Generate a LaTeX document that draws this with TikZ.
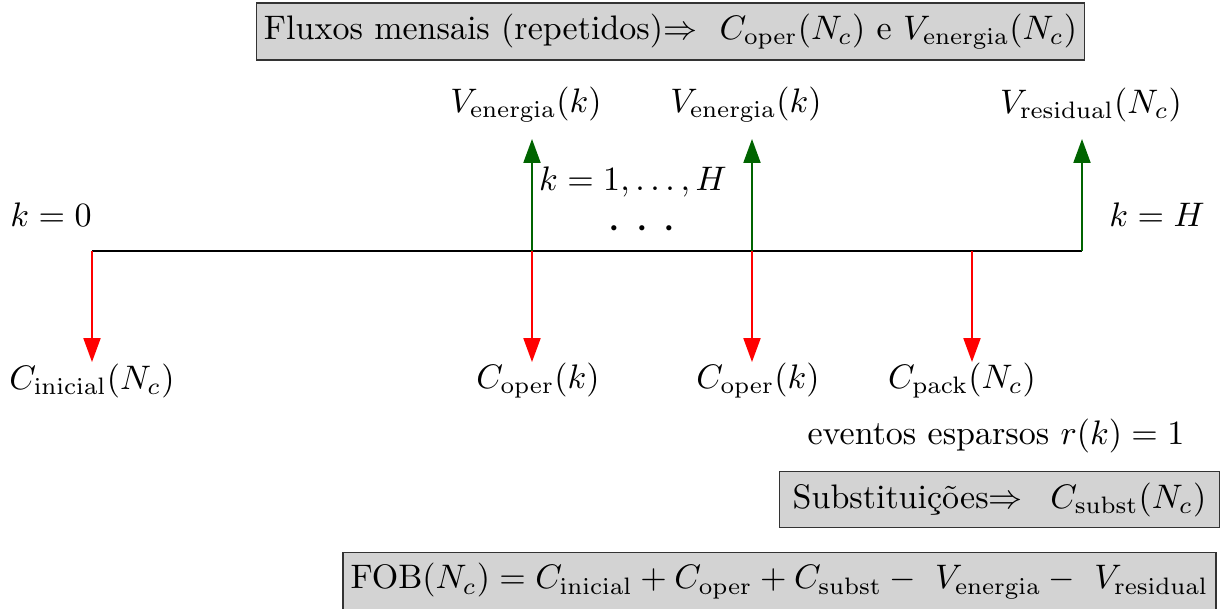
\documentclass[tikz,border=0pt]{standalone}
\usetikzlibrary{arrows.meta}
\definecolor{boxgray}{RGB}{211,211,211}
\definecolor{vgreen}{RGB}{0,100,0}
\tikzset{
  every node/.style={inner sep=0pt},
  infobox/.style={draw=black!80, fill=boxgray, inner xsep=2.2pt, inner ysep=3.2pt, line width=0.5pt},
  costarrow/.style={red, line width=0.5pt, -{Triangle[length=7pt,width=5pt]}},
  gainarrow/.style={vgreen, line width=0.5pt, -{Triangle[length=7pt,width=5pt]}},
  timeline/.style={black, line width=0.5pt}
}
\begin{document}
\begin{tikzpicture}[x=0.294pt,y=-0.294pt]
\useasboundingbox (0,0) rectangle (1220,608);
% top box
\node[infobox] (top) at (670.5,31.5) {Fluxos mensais (repetidos)$\Rightarrow$\ \ $C_{\mathrm{oper}}(N_c)$ e $V_{\mathrm{energia}}(N_c)$};
% timeline points
\coordinate (t0) at (92,251);
\coordinate (t1) at (532,251);
\coordinate (t2) at (752,251);
\coordinate (tp) at (972,251);
\coordinate (tH) at (1082,251);
\coordinate (d0) at (92,362);
\coordinate (d1) at (532,362);
\coordinate (d2) at (752,362);
\coordinate (dp) at (972,362);
\coordinate (u1) at (532,139);
\coordinate (u2) at (752,139);
\coordinate (uH) at (1082,139);
\draw[timeline] (t0) -- (tH);
\draw[costarrow] (t0) -- (d0);
\draw[costarrow] (t1) -- (d1);
\draw[costarrow] (t2) -- (d2);
\draw[costarrow] (tp) -- (dp);
\draw[gainarrow] (t1) -- (u1);
\draw[gainarrow] (t2) -- (u2);
\draw[gainarrow] (tH) -- (uH);
% labels
\node (k0) at (51,215) {$k=0$};
\node (kH) at (1157,215) {$k=H$};
\node (k1) at (633,182) {$k=1,\ldots,H$};
\node[anchor=base, text height=2pt, text depth=0pt] (dots) at (642,240) {\Large${\cdot}\hspace{4.1pt}{\cdot}\hspace{4.1pt}{\cdot}$};
\node (v1) at (526,105) {$V_{\mathrm{energia}}(k)$};
\node (v2) at (746,105) {$V_{\mathrm{energia}}(k)$};
\node (vr) at (1091,105) {$V_{\mathrm{residual}}(N_c)$};
\node (ci) at (92,381) {$C_{\mathrm{inicial}}(N_c)$};
\node (co1) at (538,381) {$C_{\mathrm{oper}}(k)$};
\node (co2) at (758,381) {$C_{\mathrm{oper}}(k)$};
\node (cp) at (962,381) {$C_{\mathrm{pack}}(N_c)$};
\node (ev) at (996,436) {eventos esparsos $r(k)=1$};
\node[infobox, inner xsep=3.9pt] (sub) at (999.5,499.5) {Substitui\c{c}\~oes$\Rightarrow$\ \ \hspace{1.5pt}$C_{\mathrm{subst}}(N_c)$};
\node[infobox] (fob) at (779.5,581) {$\mathrm{FOB}(N_c)=C_{\mathrm{inicial}}+C_{\mathrm{oper}}+C_{\mathrm{subst}}-\ V_{\mathrm{energia}}-\ V_{\mathrm{residual}}$};
\end{tikzpicture}
\end{document}
